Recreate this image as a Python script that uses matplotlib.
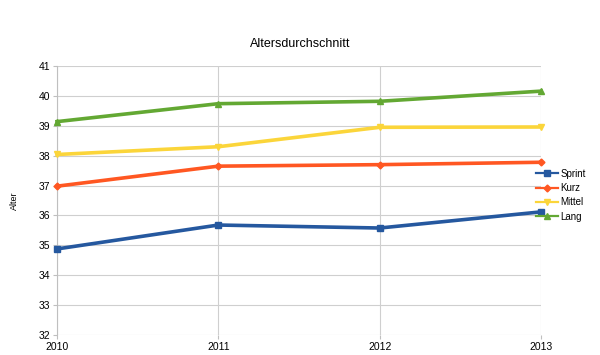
import matplotlib
matplotlib.use("Agg")
import matplotlib.pyplot as plt

years = [2010, 2011, 2012, 2013]
sprint = [34.88, 35.68, 35.58, 36.12]
kurz = [36.98, 37.65, 37.70, 37.78]
mittel = [38.04, 38.30, 38.95, 38.96]
lang = [39.14, 39.74, 39.82, 40.16]
series_names = ["Sprint", "Kurz", "Mittel", "Lang"]
yticks = list(range(32, 42))

plt.rcParams['font.family'] = ['Liberation Sans', 'DejaVu Sans']
fig = plt.figure(figsize=(6, 3.55), dpi=100)
ax = fig.add_axes([0.095, 0.0563, 0.8067, 0.7577])

styles = [
    (sprint, "#25589f", "s", 5),
    (kurz, "#ff5722", "D", 3.5),
    (mittel, "#fbd53a", "v", 5),
    (lang, "#63a833", "^", 5),
]
for (vals, color, marker, ms), name in zip(styles, series_names):
    ax.plot(years, vals, color=color, lw=2.6, marker=marker, ms=ms, label=name,
            clip_on=False, zorder=3)

ax.set_xlim(2010, 2013)
ax.set_ylim(32, 41)
ax.set_xticks(years)
ax.set_yticks(yticks)
ax.grid(True, color="#cfcfcf", lw=0.8)
ax.set_axisbelow(True)
for s in ["top", "right", "bottom"]:
    ax.spines[s].set_visible(False)
ax.spines["left"].set_color("#bfbfbf")
ax.tick_params(length=3, color="#bfbfbf", labelsize=7.5, pad=2)
ax.set_ylabel("Alter", fontsize=6.5, labelpad=14)
fig.text(0.5, 0.875, "Altersdurchschnitt", ha="center", va="center", fontsize=9)

leg = ax.legend(loc="center left", bbox_to_anchor=(0.99, 0.52), frameon=False,
                fontsize=7, handlelength=2.2, handletextpad=0.3, labelspacing=0.45,
                borderaxespad=0, borderpad=0)
for ln in leg.get_lines():
    ln.set_linewidth(1.6)

fig.savefig("out.png", dpi=100)
